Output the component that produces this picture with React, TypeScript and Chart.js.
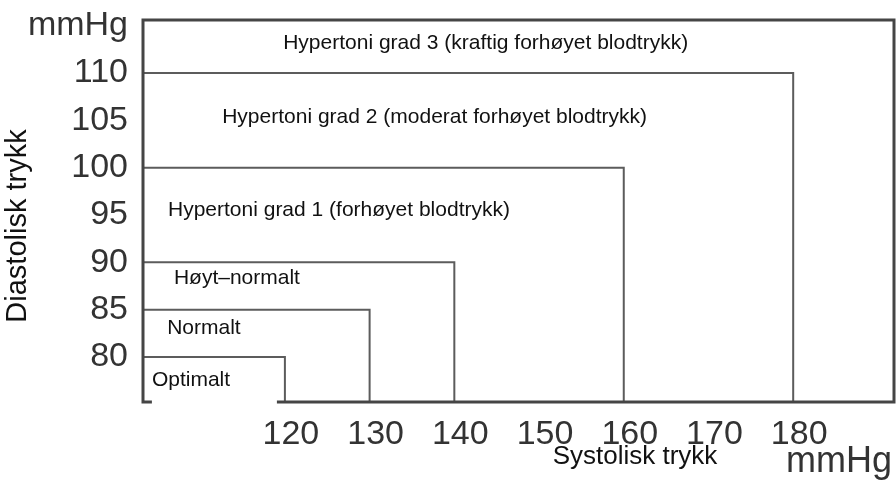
import React, { useEffect, useRef } from "react";
import { Chart, registerables } from "chart.js";

Chart.register(...registerables);

// ---- data ----
const SYSTOLIC_LIMITS = [120, 130, 140, 160, 180];
const DIASTOLIC_LIMITS = [80, 85, 90, 100, 110];
const X_TICKS = [120, 130, 140, 150, 160, 170, 180];
const Y_TICKS = [80, 85, 90, 95, 100, 105, 110];
const Y_UNIT_TICK = 115;
const UNIT = "mmHg";
const CATEGORY_NAMES = [
  "Optimalt",
  "Normalt",
  "Høyt–normalt",
  "Hypertoni grad 1 (forhøyet blodtrykk)",
  "Hypertoni grad 2 (moderat forhøyet blodtrykk)",
  "Hypertoni grad 3 (kraftig forhøyet blodtrykk)",
];
const X_TITLE = "Systolisk trykk";
const Y_TITLE = "Diastolisk trykk";

// ---- layout (not data) ----
const X_MIN = 103.25;
const X_MAX = 191.9;
const Y_MIN = 75.25;
const Y_MAX = 115.6;
// label anchors in data units (left edge x, vertical middle y)
const LABEL_ANCHORS = [
  { x: 104.3, y: 77.6 },
  { x: 106.1, y: 83.0 },
  { x: 106.9, y: 88.35 },
  { x: 106.2, y: 95.5 },
  { x: 112.6, y: 105.35 },
  { x: 119.8, y: 113.2 },
];

const FONT = '"Liberation Sans", Arial, Helvetica, sans-serif';

const overlay = {
  id: "overlay",
  afterDatasetsDraw(chart: any) {
    const { ctx, chartArea, scales } = chart;
    const { left, right, top, bottom } = chartArea;
    const xs = scales.x;
    const ys = scales.y;
    ctx.save();
    // frame
    ctx.strokeStyle = "#454545";
    ctx.lineWidth = 3;
    ctx.beginPath();
    ctx.moveTo(left, top);
    ctx.lineTo(right, top);
    ctx.lineTo(right, bottom);
    ctx.lineTo(left, bottom);
    ctx.closePath();
    ctx.stroke();

    // category labels
    ctx.textAlign = "left";
    ctx.textBaseline = "middle";
    ctx.font = `21px ${FONT}`;
    CATEGORY_NAMES.forEach((name, i) => {
      const a = LABEL_ANCHORS[i];
      const px = xs.getPixelForValue(a.x);
      const py = ys.getPixelForValue(a.y);
      if (i === 0) {
        ctx.fillStyle = "#ffffff";
        const rx = xs.getPixelForValue(SYSTOLIC_LIMITS[0]) - 8;
        ctx.fillRect(px, py + 8, rx - px, bottom + 4 - (py + 8));
      }
      ctx.fillStyle = "#111111";
      ctx.fillText(name, px, py);
    });

    // axis titles
    ctx.fillStyle = "#111111";
    ctx.font = `26px ${FONT}`;
    ctx.textAlign = "center";
    ctx.fillText(X_TITLE, 635, 457);

    ctx.save();
    ctx.translate(18, 226);
    ctx.rotate(-Math.PI / 2);
    ctx.font = `29px ${FONT}`;
    ctx.fillText(Y_TITLE, 0, 0);
    ctx.restore();

    ctx.fillStyle = "#333333";
    ctx.font = `36px ${FONT}`;
    ctx.textAlign = "right";
    ctx.fillText(UNIT, 892, 462);
    ctx.restore();
  },
};

export default function App() {
  const ref = useRef<HTMLCanvasElement | null>(null);

  useEffect(() => {
    document.body.style.margin = "0";
    const canvas = ref.current;
    if (!canvas) return;

    const datasets = SYSTOLIC_LIMITS.map((s, i) => ({
      label: CATEGORY_NAMES[i],
      data: [
        { x: X_MIN, y: DIASTOLIC_LIMITS[i] },
        { x: s, y: DIASTOLIC_LIMITS[i] },
        { x: s, y: Y_MIN },
      ],
      borderColor: "#5c5c5c",
      borderWidth: 2,
      pointRadius: 0,
      fill: false,
      tension: 0,
    }));

    const chart = new Chart(canvas, {
      type: "line",
      data: { datasets },
      plugins: [overlay],
      options: {
        animation: false,
        responsive: false,
        layout: { padding: { top: 20, right: 2, left: 0, bottom: 0 } },
        plugins: {
          legend: { display: false },
          tooltip: { enabled: false },
        },
        scales: {
          x: {
            type: "linear",
            min: X_MIN,
            max: X_MAX,
            afterBuildTicks: (scale: any) => {
              scale.ticks = X_TICKS.map((v) => ({ value: v }));
            },
            afterFit: (scale: any) => {
              scale.height = 82;
              scale.paddingLeft = 0;
              scale.paddingRight = 0;
            },
            grid: { display: false, drawTicks: false },
            border: { display: false },
            ticks: {
              autoSkip: false,
              maxRotation: 0,
              padding: 12,
              labelOffset: 6,
              color: "#333333",
              font: { family: FONT, size: 34 },
              callback: (v: any) => String(v),
            },
          },
          y: {
            type: "linear",
            min: Y_MIN,
            max: Y_MAX,
            afterBuildTicks: (scale: any) => {
              scale.ticks = [...Y_TICKS, Y_UNIT_TICK].map((v) => ({ value: v }));
            },
            afterFit: (scale: any) => {
              scale.width = 143;
              scale.paddingTop = 0;
              scale.paddingBottom = 0;
            },
            grid: { display: false, drawTicks: false },
            border: { display: false },
            ticks: {
              autoSkip: false,
              padding: 15,
              color: "#333333",
              font: { family: FONT, size: 34 },
              callback: (v: any) => (v === Y_UNIT_TICK ? UNIT : String(v)),
            },
          },
        },
      },
    });
    return () => chart.destroy();
  }, []);

  return (
    <div style={{ width: 896, height: 484 }}>
      <canvas ref={ref} width={896} height={484} />
    </div>
  );
}
